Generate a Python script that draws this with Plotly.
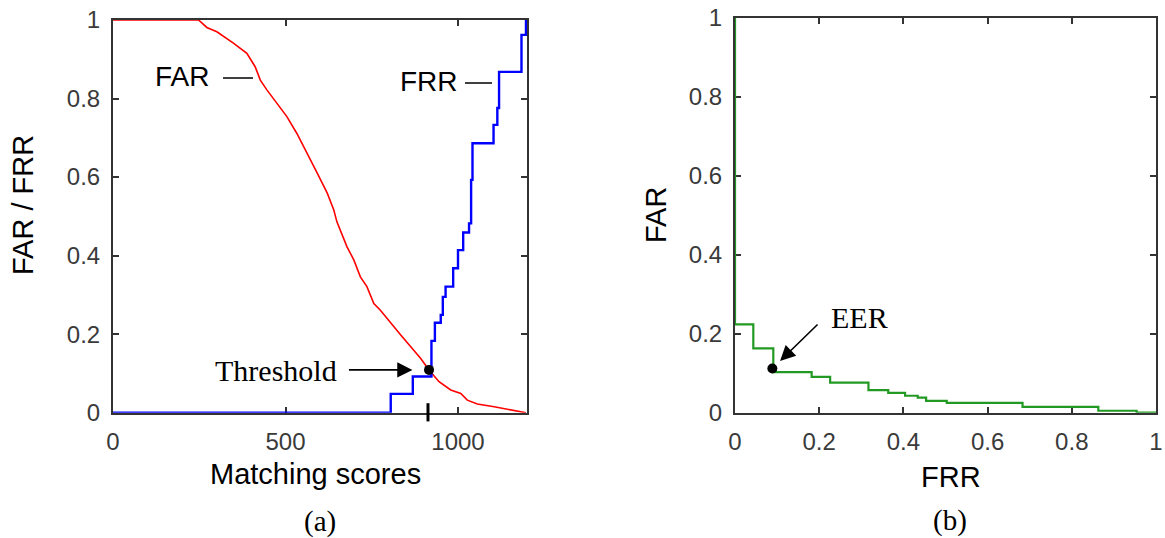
import plotly.graph_objects as go

W, H = 1165, 538

# ---------------- data ----------------
score_ticks = [0, 500, 1000]
rate_ticks = [0, 0.2, 0.4, 0.6, 0.8, 1]
rate_tick_labels = ["0", "0.2", "0.4", "0.6", "0.8", "1"]
roc_ticks = [0, 0.2, 0.4, 0.6, 0.8, 1]
roc_tick_labels = ["0", "0.2", "0.4", "0.6", "0.8", "1"]

far_scores = [0, 248, 272, 301, 349, 388, 412, 427, 446, 475, 504, 533, 563, 592, 621, 640,
              649, 678, 698, 717, 736, 756, 775, 805, 834, 863, 892, 916, 945, 979, 1008,
              1027, 1056, 1105, 1143, 1172, 1197]
far_values = [1.0, 1.0, 0.981, 0.970, 0.941, 0.915, 0.881, 0.847, 0.822, 0.788, 0.754, 0.711,
              0.661, 0.610, 0.559, 0.516, 0.486, 0.423, 0.389, 0.346, 0.321, 0.278, 0.261,
              0.228, 0.198, 0.168, 0.138, 0.109, 0.079, 0.058, 0.049, 0.032, 0.022, 0.015,
              0.009, 0.004, 0.0]

frr_scores = [0, 805, 869, 923, 933, 950, 956, 964, 986, 1000, 1015, 1032, 1038, 1042,
              1103, 1114, 1119, 1184, 1197, 1200]
frr_values = [0.0, 0.048, 0.092, 0.183, 0.229, 0.249, 0.295, 0.321, 0.368, 0.414, 0.459,
              0.482, 0.593, 0.686, 0.733, 0.776, 0.868, 0.962, 1.0, 1.0]

threshold_score = 916
threshold_rate = 0.109
threshold_tick_score = 913

roc_frr = [0, 0, 0.0435, 0.091, 0.182, 0.226, 0.317, 0.364, 0.404, 0.434, 0.454, 0.503,
           0.683, 0.863, 0.954, 1.0]
roc_far = [1.0, 0.224, 0.163, 0.103, 0.091, 0.076, 0.057, 0.050, 0.043, 0.038, 0.030,
           0.025, 0.015, 0.005, 0.0, 0.0]

eer_frr = 0.0887
eer_far = 0.112

# ---------------- helpers ----------------
def px(x):
    return x / W


def py(y):
    return 1 - y / H


SANS = "Arial, Liberation Sans, sans-serif"
SERIF = "Times New Roman, Liberation Serif, serif"
AXC = "#333333"

fig = go.Figure()

fig.add_trace(go.Scatter(x=far_scores, y=far_values, mode="lines",
                         line=dict(color="#ff0000", width=1.6),
                         xaxis="x", yaxis="y", showlegend=False))
fig.add_trace(go.Scatter(x=frr_scores, y=frr_values, mode="lines",
                         line=dict(color="#0000ff", width=2.4, shape="hv"),
                         xaxis="x", yaxis="y", showlegend=False))
fig.add_trace(go.Scatter(x=[threshold_score], y=[threshold_rate], mode="markers",
                         marker=dict(color="black", size=10),
                         xaxis="x", yaxis="y", showlegend=False, cliponaxis=False))
fig.add_trace(go.Scatter(x=[threshold_tick_score], y=[0.001], mode="markers",
                         marker=dict(symbol="line-ns", size=13,
                                     line=dict(color="black", width=3)),
                         xaxis="x", yaxis="y", showlegend=False, cliponaxis=False))

fig.add_trace(go.Scatter(x=roc_frr, y=roc_far, mode="lines",
                         line=dict(color="#229922", width=2.2, shape="hv"),
                         xaxis="x2", yaxis="y2", showlegend=False))
fig.add_trace(go.Scatter(x=[eer_frr], y=[eer_far], mode="markers",
                         marker=dict(color="black", size=10),
                         xaxis="x2", yaxis="y2", showlegend=False, cliponaxis=False))

axis_common = dict(showgrid=False, zeroline=False, showline=True, linecolor=AXC,
                   linewidth=2, mirror="ticks", ticks="inside", ticklen=6,
                   tickwidth=1.5, tickcolor=AXC, layer="below traces", automargin=False,
                   tickfont=dict(family=SANS, size=24, color="#3a3a3a"))

fig.update_layout(
    template="none",
    width=W, height=H,
    margin=dict(l=0, r=0, t=0, b=0, pad=0),
    paper_bgcolor="white", plot_bgcolor="white",
    xaxis=dict(domain=[px(113), px(527)], range=[0, 1200], tickvals=score_ticks,
               ticktext=[str(v) for v in score_ticks], anchor="y",
               ticklabelstandoff=6, **axis_common),
    yaxis=dict(domain=[py(412.7), py(20)], range=[0, 1], tickvals=rate_ticks,
               ticktext=rate_tick_labels, anchor="x", ticklabelstandoff=6, **axis_common),
    xaxis2=dict(domain=[px(735), px(1156)], range=[0, 1], tickvals=roc_ticks,
                ticktext=roc_tick_labels, anchor="y2", ticklabelstandoff=6, **axis_common),
    yaxis2=dict(domain=[py(412.7), py(18)], range=[0, 1], tickvals=roc_ticks,
                ticktext=roc_tick_labels, anchor="x2", ticklabelstandoff=6, **axis_common),
)

ann = []
# axis titles
ann.append(dict(text="FAR / FRR", x=px(23), y=py(205), textangle=-90,
                font=dict(family=SANS, size=29, color="black")))
ann.append(dict(text="Matching scores", x=px(316), y=py(474),
                font=dict(family=SANS, size=29, color="black")))
ann.append(dict(text="FAR", x=px(656), y=py(215), textangle=-90,
                font=dict(family=SANS, size=29, color="black")))
ann.append(dict(text="FRR", x=px(951), y=py(477),
                font=dict(family=SANS, size=29, color="black")))
ann.append(dict(text="(a)", x=px(320), y=py(521),
                font=dict(family=SERIF, size=29, color="black")))
ann.append(dict(text="(b)", x=px(950), y=py(520),
                font=dict(family=SERIF, size=29, color="black")))
for a in ann:
    a.update(xref="paper", yref="paper", showarrow=False, xanchor="center", yanchor="middle")

# in-plot labels
ann.append(dict(text="FAR", x=px(153), y=py(77), xref="paper", yref="paper",
                xanchor="left", yanchor="middle", showarrow=False,
                font=dict(family=SANS, size=28, color="black")))
ann.append(dict(text="FRR", x=px(398), y=py(82), xref="paper", yref="paper",
                xanchor="left", yanchor="middle", showarrow=False,
                font=dict(family=SANS, size=28, color="black")))
ann.append(dict(text="Threshold", x=px(339), y=py(370), xref="paper", yref="paper",
                xanchor="right", yanchor="middle", showarrow=False,
                font=dict(family=SERIF, size=30, color="black")))
ann.append(dict(text="EER", x=px(829), y=py(317), xref="paper", yref="paper",
                xanchor="left", yanchor="middle", showarrow=False,
                font=dict(family=SERIF, size=30, color="black")))
# arrows
ann.append(dict(text="", x=868, y=0.109, xref="x", yref="y", ax=-65, ay=0,
                showarrow=True, arrowhead=2, arrowsize=1.9, arrowwidth=1.6,
                arrowcolor="black", standoff=0))
ann.append(dict(text="", x=0.107, y=0.131, xref="x2", yref="y2", ax=39, ay=-38,
                showarrow=True, arrowhead=2, arrowsize=1.9, arrowwidth=1.6,
                arrowcolor="black", standoff=0))
fig.update_layout(annotations=ann)

# label leader dashes
fig.add_shape(type="line", xref="paper", yref="paper", x0=px(223), x1=px(253),
              y0=py(78), y1=py(78), line=dict(color="black", width=1.5))
fig.add_shape(type="line", xref="paper", yref="paper", x0=px(465), x1=px(492),
              y0=py(83), y1=py(83), line=dict(color="black", width=1.5))

fig.write_html("out.html")
